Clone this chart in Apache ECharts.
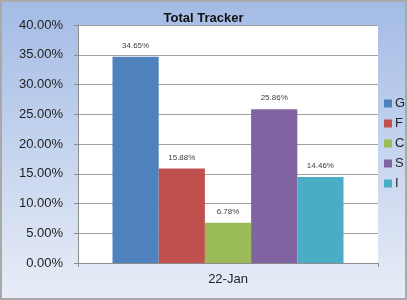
<!DOCTYPE html>
<html><head><meta charset="utf-8">
<script src="https://cdn.jsdelivr.net/npm/echarts@6/dist/echarts.min.js"></script>
<style>html,body{margin:0;padding:0;}#c{width:407px;height:300px;}</style>
</head><body><div id="c"></div>
<script>
const categories = ['22-Jan'];
const seriesNames = ['G', 'F', 'C', 'S', 'I'];
const seriesValues = [[0.3465], [0.1588], [0.0678], [0.2586], [0.1446]];
const colors = ['#4f81bd', '#c0504d', '#9bbb59', '#8064a2', '#4bacc6'];
const yTicks = { min: 0, max: 0.4, interval: 0.05 };

const chart = echarts.init(document.getElementById('c'));
const pct = v => (v * 100).toFixed(2) + '%';
chart.setOption({
  animation: false,
  textStyle: { fontFamily: 'Liberation Sans' },
  graphic: [{
    type: 'rect', z: -10, silent: true,
    shape: { x: 1, y: 1, width: 405, height: 298 },
    style: {
      fill: new echarts.graphic.LinearGradient(0, 0, 0, 1, [
        { offset: 0, color: '#a3bbe5' },
        { offset: 1, color: '#e8edf7' }
      ]),
      stroke: '#a9a9a9', lineWidth: 2
    }
  }],
  title: {
    text: 'Total Tracker', left: 'center', top: 7,
    textStyle: { fontSize: 13, fontWeight: 'bold', color: '#111' }
  },
  legend: {
    orient: 'vertical', left: 384, top: 97, padding: 0,
    itemWidth: 8, itemHeight: 8, itemGap: 7,
    textStyle: { fontSize: 13, color: '#222', padding: [0, 0, 0, -2] },
    data: seriesNames.map(n => ({ name: n, icon: 'rect' }))
  },
  grid: { left: 78, right: 29, top: 25, bottom: 37, show: true, backgroundColor: '#ffffff', borderWidth: 0 },
  xAxis: {
    type: 'category', data: categories,
    axisLine: { lineStyle: { color: '#8c8c8c' } },
    axisTick: { show: true, length: 4, lineStyle: { color: '#8c8c8c' } },
    axisLabel: { fontSize: 13, color: '#222', margin: 10 }
  },
  yAxis: {
    type: 'value', min: yTicks.min, max: yTicks.max, interval: yTicks.interval,
    axisLine: { show: true, lineStyle: { color: '#8c8c8c' } },
    axisTick: { show: true, length: 4, lineStyle: { color: '#8c8c8c' } },
    splitLine: { lineStyle: { color: '#a0a0a0' } },
    axisLabel: { formatter: pct, fontSize: 13, color: '#222', margin: 15 }
  },
  series: seriesNames.map((n, i) => ({
    name: n, type: 'bar', data: seriesValues[i],
    barGap: '0%', barCategoryGap: '23%',
    itemStyle: { color: colors[i] },
    label: { show: true, position: 'top', formatter: p => pct(p.value), fontSize: 8, color: '#404040', distance: 7 }
  }))
});
</script></body></html>
